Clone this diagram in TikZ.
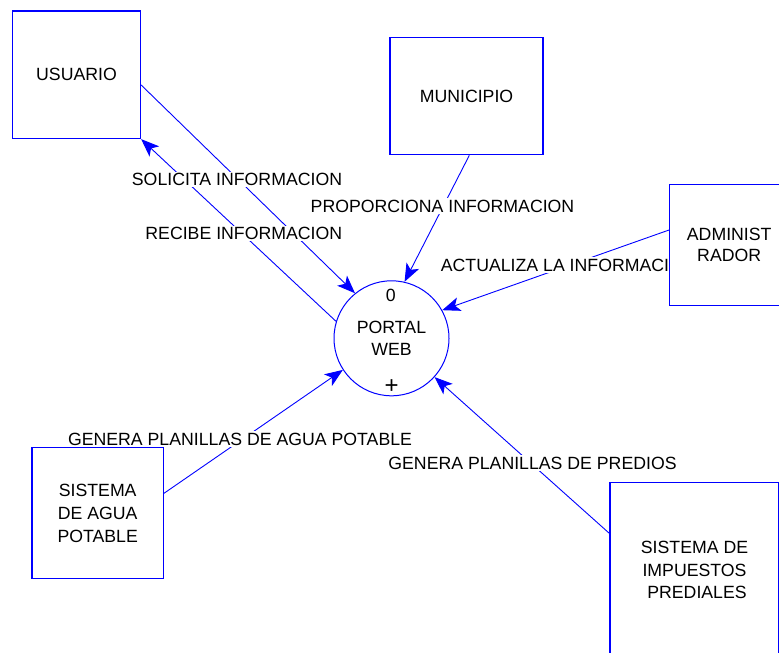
\documentclass[tikz,border=0pt]{standalone}
\usepackage{fontspec}
\setmainfont{Liberation Sans}
\usetikzlibrary{arrows.meta}
\pgfdeclarelayer{bg}
\pgfdeclarelayer{mid}
\pgfsetlayers{bg,mid,main}
\tikzset{
  ent/.style={rectangle, draw=blue, line width=1.3pt, fill=white, text=black, align=center, inner sep=0pt},
  proc/.style={circle, draw=blue, line width=1pt, fill=white, minimum size=115pt, inner sep=0pt, align=center},
  flow/.style={draw=blue, line width=0.9pt, -{Stealth[length=18pt,width=14pt,inset=4.5pt]}},
  lbl/.style={fill=white, inner sep=1.5pt, text=black},
  plain/.style={inner sep=0pt, text=black}
}
\begin{document}
\begin{tikzpicture}[x=1pt,y=-1pt]
\fontsize{17.7}{21.6}\selectfont
\useasboundingbox (0,0) rectangle (779,653);
\clip (0,0) rectangle (779,653);

% entities
\node[ent, minimum width=128pt, minimum height=127.5pt] (usu) at (76.5,74.75) {USUARIO};
\node[ent, minimum width=153pt, minimum height=117.4pt] (mun) at (466.5,96) {MUNICIPIO};
\node[ent, minimum width=119pt, minimum height=120.6pt, font=\fontsize{17.7}{21.7}\selectfont] (adm) at (729.2,245) {ADMINIST\\RADOR};
\node[ent, minimum width=131.3pt, minimum height=131pt, font=\fontsize{17.7}{23}\selectfont] (agu) at (97.7,513.2) {SISTEMA\\DE AGUA\\POTABLE};
\node[ent, minimum width=169pt, minimum height=174.6pt, font=\fontsize{17.7}{22.5}\selectfont] (imp) at (694.5,570) {SISTEMA DE\\IMPUESTOS\\\hspace*{5pt}PREDIALES};

% process
\node[proc, font=\fontsize{17.7}{21.6}\selectfont] (pw) at (391.5,338.3) {PORTAL\\WEB};
\node[plain] (zero) at (390.7,295) {0};
\node[plain, font=\fontsize{24}{24}\selectfont] (plus) at (391.7,386.7) {+};

% connectors
\begin{pgfonlayer}{bg}
\fill[white] (0,0) rectangle (779,653);
\draw[flow] ([yshift=-10.25pt]usu.east) -- (pw.129);
\draw[flow] (pw.163) -- (usu.south east);
\draw[flow] ([xshift=2.8pt]mun.south) -- (pw.77);
\draw[flow] ([yshift=15pt]adm.west) -- (pw.29);
\draw[flow] ([yshift=19.9pt]agu.east) -- (pw.213);
\draw[flow] ([yshift=-51.3pt]imp.north west) -- (pw.318);
\end{pgfonlayer}

% labels
\begin{pgfonlayer}{mid}
\node[lbl] (l1) at (237,179.3) {SOLICITA INFORMACION};
\node[lbl] (l2) at (243.8,233.3) {RECIBE INFORMACION};
\node[lbl] (l3) at (442.5,206) {PROPORCIONA INFORMACION};
\node[lbl, anchor=west] (l4) at (439.2,265) {ACTUALIZA LA INFORMACION};
\node[lbl] (l5) at (240,439) {GENERA PLANILLAS DE AGUA POTABLE};
\node[lbl] (l6) at (532.5,463) {GENERA PLANILLAS DE PREDIOS};
\end{pgfonlayer}
\end{tikzpicture}
\end{document}
